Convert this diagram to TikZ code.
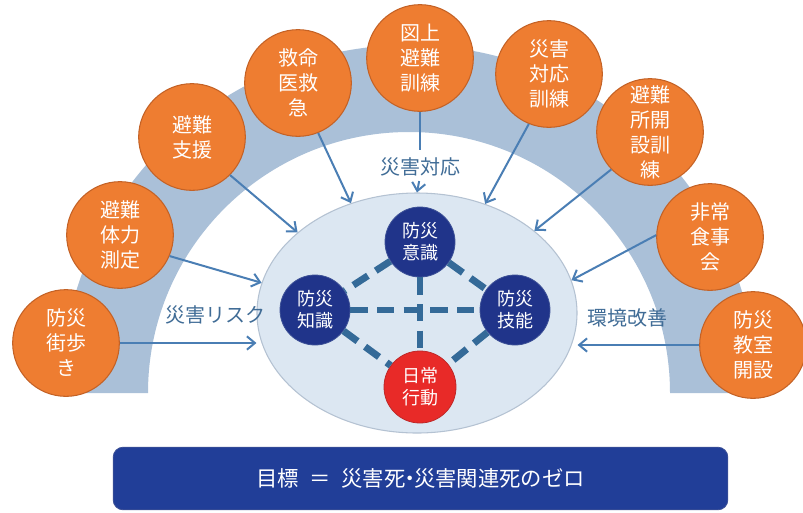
\documentclass[tikz,border=0pt]{standalone}
\usepackage{fontspec}
\setmainfont{Noto Sans CJK JP}
\usetikzlibrary{arrows.meta,shapes.geometric}
\definecolor{orc}{RGB}{238,125,49}
\definecolor{orcb}{RGB}{196,98,38}
\definecolor{navy}{RGB}{32,52,138}
\definecolor{navyb}{RGB}{60,80,150}
\definecolor{redf}{RGB}{232,42,40}
\definecolor{redb}{RGB}{190,40,40}
\definecolor{dashc}{RGB}{52,106,152}
\definecolor{arrc}{RGB}{74,126,180}
\definecolor{lblc}{RGB}{64,108,150}
\definecolor{bandc}{RGB}{170,192,216}
\definecolor{ellf}{RGB}{220,231,242}
\definecolor{elld}{RGB}{180,194,210}
\definecolor{goalc}{RGB}{33,62,152}
\begin{document}
\begin{tikzpicture}[x=0.75pt,y=-0.75pt,
  orangec/.style={circle, fill=orc, draw=orcb, line width=0.8pt, minimum size=80pt, inner sep=0pt, align=center, text=white, font=\fontsize{15}{18.75}\selectfont},
  darkc/.style={circle, fill=navy, draw=navyb, line width=0.6pt, minimum size=52.5pt, inner sep=0pt, align=center, text=white, font=\fontsize{13.5}{16.5}\selectfont},
  redc/.style={darkc, fill=redf, draw=redb, minimum size=54pt},
  link/.style={draw=dashc, line width=5.2pt, dash pattern=on 13pt off 7pt},
  feed/.style={draw=arrc, line width=1.5pt, -{Straight Barb[length=6pt,width=10pt]}},
  lbl/.style={text=lblc, font=\fontsize{15}{18}\selectfont, inner sep=0pt}]
\useasboundingbox (0,0) rectangle (803,512);
% band
\fill[bandc] (61,393) arc[start angle=180, end angle=360, radius=348] -- (670,393)
  arc[start angle=0, end angle=-180, radius=261] -- cycle;
% central ellipse
\node[ellipse, fill=ellf, draw=elld, line width=0.8pt, minimum width=240pt, minimum height=180pt, inner sep=0pt] (e) at (417,313) {};
% outer circles
\node[orangec] (machi) at (66,343) {防災\\街歩\\き};
\node[orangec] (tairyoku) at (120,235) {避難\\体力\\測定};
\node[orangec] (shien) at (192,137) {避難\\支援};
\node[orangec] (kyumei) at (298,83) {救命\\医救\\急};
\node[orangec] (zujou) at (420,58) {図上\\避難\\訓練};
\node[orangec] (taiou) at (549,74) {災害\\対応\\訓練};
\node[orangec] (kaisetsu) at (650,132) {避難\\所開\\設訓\\練};
\node[orangec] (shoku) at (710,237) {非常\\食事\\会};
\node[orangec] (kyoushitsu) at (753,345) {防災\\教室\\開設};
% labels
\node[lbl] (risk) at (215,315) {災害リスク};
\node[lbl] (kankyo) at (627,318) {環境改善};
\node[lbl] (tlabel) at (420,167) {災害対応};
% arrows
\draw[feed] (machi.east) -- (machi.east -| e.west);
\draw[feed] (tairyoku.-23) -- (e.169.5);
\draw[feed] (shien.-45) -- (e.146.8);
\draw[feed] (kyumei.-68) -- (e.121);
\draw[draw=arrc, line width=1.5pt, shorten >=6pt] (zujou.south) -- (tlabel.north);
\draw[feed, shorten <=3.5pt] (tlabel.south) -- (e.north);
\draw[feed] (taiou.-112) -- (e.58.3);
\draw[feed] (kaisetsu.-136.5) -- (e.35.8);
\draw[feed] (shoku.178) -- (e.12.7);
\draw[feed] (kyoushitsu.west) -- (kyoushitsu.west -| e.east);
% inner circles
\node[darkc] (ishiki) at (420,242) {防災\\意識};
\node[darkc] (chishiki) at (315,310) {防災\\知識};
\node[darkc] (gino) at (515,310) {防災\\技能};
\node[redc] (nichijo) at (420,387) {日常\\行動};
\draw[link] (ishiki) -- (chishiki);
\draw[link] (ishiki) -- (gino);
\draw[link] (chishiki) -- (nichijo);
\draw[link] (gino) -- (nichijo);
\draw[link] (chishiki) -- (gino);
\draw[link] (ishiki) -- (nichijo);
% goal box
\node[rounded corners=7.5pt, fill=goalc, draw=navyb, line width=0.6pt, minimum width=461pt, minimum height=47pt, inner sep=0pt, text=white, font=\fontsize{16}{19}\selectfont] (goal) at (420.5,478.5) {目標\hspace{0.5em}＝\hspace{0.5em}災害死\kern-0.3em・\kern-0.3em災害関連死のゼロ};
\end{tikzpicture}
\end{document}
